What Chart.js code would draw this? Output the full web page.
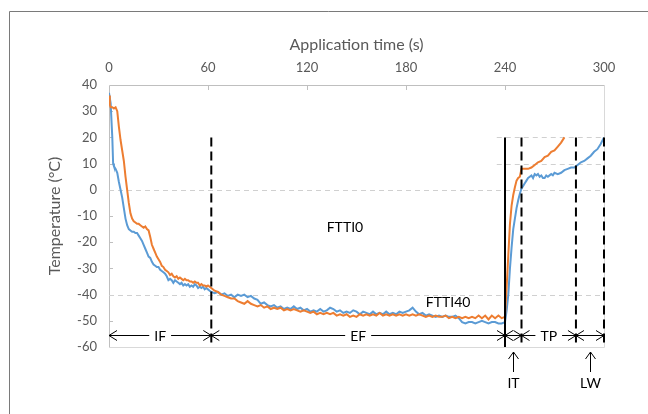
<!DOCTYPE html>
<html>
<head>
<meta charset="utf-8">
<script src="https://cdn.jsdelivr.net/npm/chart.js@4.4.1/dist/chart.umd.min.js"></script>
<style>
  html, body { margin: 0; padding: 0; background: #fff; }
  #wrap { width: 648px; height: 414px; position: relative; }
</style>
</head>
<body>
<div id="wrap"><canvas id="tempChart" width="648" height="414"></canvas></div>
<script>
// FTTI0 (blue) - time in s, temperature in °C
const blueTime = [
  0, 1, 2, 2.5, 3, 4, 5, 6, 7, 8, 9, 10, 11, 12, 13, 14, 15, 16, 17, 18, 19, 20,
  21, 22, 23, 24, 25, 26, 27, 28, 29, 30, 31, 32, 33, 34, 35, 36, 37, 38, 39, 40,
  41, 42, 43, 44, 45, 46, 47, 48, 49, 50, 51, 52, 53, 54, 55, 56, 57, 58, 59, 60, 61, 62,
  64, 66, 68, 70, 72, 74, 76, 78, 80, 82, 84, 86, 88, 90, 92, 94, 96, 98, 100,
  102, 104, 106, 108, 110, 112, 114, 116, 118, 120, 122, 124, 126, 128, 130,
  132, 134, 136, 138, 140, 142, 144, 146, 148, 150, 152, 154, 156, 158, 160,
  162, 164, 166, 168, 170, 172, 174, 176, 178, 180, 182, 184, 186, 188, 190,
  192, 194, 196, 198, 200, 202, 204, 206, 208, 210, 212, 214, 216, 218, 220,
  222, 224, 226, 228, 230, 232, 234, 236, 238, 240,
  241, 242, 243, 244, 245, 246, 247, 248, 249, 250, 251, 252, 253, 254, 255,
  256, 257, 258, 259, 260, 261, 262, 263, 264, 265, 266, 267, 268, 269, 270,
  272, 274, 276, 278, 280, 282, 284, 286, 288, 290, 292, 294, 296, 298, 300
];
const blueTemp = [
  37, 33, 20, 10, 9, 8, 6.5, 3, 0, -3, -7, -11, -13.5, -15, -15.5, -16, -16, -16.5, -16.5, -17.5, -18.5, -19.5,
  -21, -22.5, -24, -25.5, -26, -27.5, -28.5, -29, -29.5, -29.5, -30.5, -31, -31.5, -32, -33, -34.5, -34, -34.5, -35.5, -34.5,
  -35, -35.5, -36, -35.5, -36.5, -36, -36.5, -36, -37, -36.5, -37, -36, -36.5, -37.5, -37, -37.5, -37, -38, -37.5, -38, -38.5, -39,
  -39.5, -39, -40, -39.5, -40.5, -40, -41, -40, -40.5, -40, -41, -40.5, -41.5, -42, -43.5, -43, -44, -44.5, -44,
  -45, -44.5, -45.5, -45, -45.5, -44.5, -45.5, -45, -46, -45.5, -46.5, -46, -46.5, -45.5, -46.5,
  -46, -45, -45.5, -46.5, -46, -47, -46.5, -47, -46, -46.5, -47.5, -46.5, -47, -47.5, -46.5,
  -47.5, -47, -47.5, -46.5, -47.5, -47, -47.5, -46.5, -47, -46.5, -46, -45, -46.5, -47.5, -47,
  -48, -47.5, -48, -48.5, -48, -48.5, -48, -48.5, -48.5, -48, -49, -50.5, -51, -50.5, -50.5,
  -51, -50.5, -50, -50.5, -51, -50.5, -50.5, -51, -51, -50.5,
  -46, -40, -30, -22, -15, -11, -7, -4, -1.5, 0.5, 1.5, 2.5, 3.5, 4.5, 5,
  5.5, 4.5, 6, 5.5, 6, 5, 5.5, 4.5, 4.5, 5.5, 5, 5.5, 6, 5.5, 6.5,
  6, 6.5, 7.5, 8, 8.5, 8.5, 9.5, 10.5, 11, 12, 13, 14.5, 15.5, 17.5, 20
];

// FTTI40 (orange)
const orangeTime = [
  0, 0.5, 1, 2, 3, 4, 5, 6, 7, 8, 9, 10, 11, 12, 13, 14, 15, 16, 17, 18, 19, 20,
  21, 22, 23, 24, 25, 26, 27, 28, 29, 30, 31, 32, 33, 34, 35, 36, 37, 38, 39, 40,
  41, 42, 43, 44, 45, 46, 47, 48, 49, 50, 51, 52, 53, 54, 55, 56, 57, 58, 59, 60, 61, 62,
  64, 66, 68, 70, 72, 74, 76, 78, 80, 82, 84, 86, 88, 90, 92, 94, 96, 98, 100,
  102, 104, 106, 108, 110, 112, 114, 116, 118, 120, 122, 124, 126, 128, 130,
  132, 134, 136, 138, 140, 142, 144, 146, 148, 150, 152, 154, 156, 158, 160,
  162, 164, 166, 168, 170, 172, 174, 176, 178, 180, 182, 184, 186, 188, 190,
  192, 194, 196, 198, 200, 202, 204, 206, 208, 210, 212, 214, 216, 218, 220,
  222, 224, 226, 228, 230, 232, 234, 236, 238, 240,
  241, 242, 243, 244, 245, 246, 247, 248, 249, 250, 252, 254, 256, 258, 260,
  262, 264, 266, 268, 270, 272, 274, 276
];
const orangeTemp = [
  36, 32.5, 31.5, 31.5, 31, 31.5, 30, 24, 19, 15, 11, 5, 0, -5, -9, -11, -12, -12.5, -13, -13, -13.5, -14,
  -14.5, -14, -15, -15.5, -18, -21, -22.5, -24, -25.5, -26.5, -27.5, -29, -29.5, -30.5, -31, -31.5, -32.5, -32, -33, -33.5,
  -33, -34, -33.5, -34, -34.5, -34, -34.5, -34.5, -35, -35, -35.5, -35, -35.5, -35.5, -36.5, -36, -36.5, -36.5, -37, -36.5, -37, -37.5,
  -38.5, -39, -40, -40.5, -41, -41.5, -41.5, -42.5, -43, -43.5, -42.5, -43.5, -44, -44.5, -44, -45, -44.5, -45.5, -45,
  -45.5, -45, -46, -45.5, -46, -45.5, -46, -46.5, -46, -46.5, -47, -46.5, -47.5, -47, -47.5,
  -47, -47.5, -47, -48, -47.5, -48, -47.5, -48.5, -48, -48.5, -47.5, -48, -47.5, -48, -47.5,
  -48, -47, -48, -47.5, -48, -47.5, -48, -47.5, -48, -47.5, -48, -47.5, -48, -47.5, -48,
  -48.5, -48, -48.5, -48, -48.5, -48.5, -48, -49, -48.5, -49, -48.5, -49, -48.5, -49, -48.5,
  -49, -48, -49, -48, -49.5, -48, -49, -48, -49, -48.5,
  -37, -25, -13, -6, -2, 1, 3.5, 4.5, 5, 8, 8, 8, 8.5, 9.5, 10.5,
  11, 12.5, 13, 14.5, 15, 16.5, 18, 20
];

// annotation values (time in s, temperature in °C)
const phaseBounds = [0, 62, 240, 250, 283, 300];
const phaseLabels = ['IF', 'EF', '', 'TP', ''];
const phaseArrowTemp = -55.5;
const markerTimes = [62, 240, 250, 283, 300];
const markerSolid = [false, true, false, false, false];
const markerTop = 20;
const fullGridTemps = [0, -40];
const partialGridTemps = [20, 10];
const partialGridStart = 235;
const pointerLabels = ['IT', 'LW'];
const pointerTimes = [245, 291.5];
const curveLabels = ['FTTI0', 'FTTI40'];
const curveLabelTimes = [143, 205.5];
const curveLabelTemps = [-14.5, -43];

const FONT = 'Lato, "Open Sans", sans-serif';
const GREY = '#595959';

const toPoints = (xs, ys) => xs.map((x, i) => ({ x: x, y: ys[i] }));

function chevron(ctx, x, y, dir) {
  ctx.beginPath();
  ctx.moveTo(x - dir * 8, y - 5);
  ctx.lineTo(x, y);
  ctx.lineTo(x - dir * 8, y + 5);
  ctx.stroke();
}

const annotations = {
  id: 'annotations',
  beforeDraw(chart) {
    // outer figure frame
    const ctx = chart.ctx;
    ctx.save();
    ctx.strokeStyle = '#7a7a7a';
    ctx.lineWidth = 1;
    ctx.beginPath();
    ctx.moveTo(9.5, 414);
    ctx.lineTo(9.5, 11.5);
    ctx.lineTo(648, 11.5);
    ctx.stroke();
    ctx.restore();
  },
  beforeDatasetsDraw(chart) {
    const { ctx, chartArea: a, scales: { x, y } } = chart;
    ctx.save();
    // plot frame
    ctx.lineWidth = 1;
    ctx.strokeStyle = '#d9d9d9';
    ctx.beginPath();
    ctx.moveTo(a.left, Math.round(a.bottom) + 0.5);
    ctx.lineTo(Math.round(a.right) + 0.5, Math.round(a.bottom) + 0.5);
    ctx.lineTo(Math.round(a.right) + 0.5, a.top);
    ctx.stroke();
    ctx.strokeStyle = '#bfbfbf';
    ctx.beginPath();
    ctx.moveTo(Math.round(a.left) + 0.5, a.bottom);
    ctx.lineTo(Math.round(a.left) + 0.5, Math.round(a.top) + 0.5);
    ctx.lineTo(a.right, Math.round(a.top) + 0.5);
    ctx.stroke();
    // inward ticks
    [60, 120, 180, 240].forEach(t => {
      const px = Math.round(x.getPixelForValue(t)) + 0.5;
      ctx.beginPath();
      ctx.moveTo(px, a.top);
      ctx.lineTo(px, a.top + 5);
      ctx.stroke();
    });
    for (let v = 30; v >= -50; v -= 10) {
      const py = Math.round(y.getPixelForValue(v)) + 0.5;
      ctx.beginPath();
      ctx.moveTo(a.left, py);
      ctx.lineTo(a.left + 4, py);
      ctx.stroke();
    }
    // dashed grid lines
    ctx.strokeStyle = '#d0d0d0';
    ctx.setLineDash([5, 4]);
    fullGridTemps.forEach(v => {
      const py = Math.round(y.getPixelForValue(v)) + 0.5;
      ctx.beginPath();
      ctx.moveTo(a.left, py);
      ctx.lineTo(a.right, py);
      ctx.stroke();
    });
    partialGridTemps.forEach(v => {
      const py = Math.round(y.getPixelForValue(v)) + 0.5;
      ctx.beginPath();
      ctx.moveTo(x.getPixelForValue(partialGridStart), py);
      ctx.lineTo(a.right, py);
      ctx.stroke();
    });
    ctx.restore();
  },
  afterDatasetsDraw(chart) {
    const { ctx, chartArea: a, scales: { x, y } } = chart;
    ctx.save();
    // phase markers
    ctx.strokeStyle = '#000';
    ctx.lineWidth = 2;
    markerTimes.forEach((t, i) => {
      const px = x.getPixelForValue(t);
      ctx.setLineDash(markerSolid[i] ? [] : [9, 5]);
      ctx.beginPath();
      ctx.moveTo(px, y.getPixelForValue(markerTop));
      ctx.lineTo(px, y.getPixelForValue(-60));
      ctx.stroke();
    });
    ctx.setLineDash([]);
    // double-headed phase arrows
    ctx.lineWidth = 1;
    ctx.font = '14px ' + FONT;
    ctx.textAlign = 'center';
    ctx.textBaseline = 'middle';
    const ay = Math.round(y.getPixelForValue(phaseArrowTemp)) + 0.5;
    for (let i = 0; i < phaseLabels.length; i++) {
      const x0 = x.getPixelForValue(phaseBounds[i]);
      const x1 = x.getPixelForValue(phaseBounds[i + 1]);
      const mid = (x0 + x1) / 2;
      ctx.beginPath();
      ctx.moveTo(x0, ay);
      ctx.lineTo(x1, ay);
      ctx.stroke();
      chevron(ctx, x0, ay, -1);
      chevron(ctx, x1, ay, 1);
      if (phaseLabels[i]) {
        const w = ctx.measureText(phaseLabels[i]).width;
        ctx.fillStyle = '#fff';
        ctx.fillRect(mid - w / 2 - 5, ay - 8, w + 10, 16);
        ctx.fillStyle = '#000';
        ctx.fillText(phaseLabels[i], mid, ay + 1);
      }
    }
    // pointers below the axis
    pointerTimes.forEach((t, i) => {
      const px = Math.round(x.getPixelForValue(t)) + 0.5;
      ctx.beginPath();
      ctx.moveTo(px, a.bottom + 25);
      ctx.lineTo(px, a.bottom + 5);
      ctx.stroke();
      ctx.beginPath();
      ctx.moveTo(px - 5, a.bottom + 12);
      ctx.lineTo(px, a.bottom + 5);
      ctx.lineTo(px + 5, a.bottom + 12);
      ctx.stroke();
      ctx.fillStyle = '#000';
      ctx.fillText(pointerLabels[i], px, a.bottom + 36);
    });
    // series labels
    curveLabels.forEach((s, i) => {
      ctx.fillText(s, x.getPixelForValue(curveLabelTimes[i]), y.getPixelForValue(curveLabelTemps[i]));
    });
    ctx.restore();
  }
};

new Chart(document.getElementById('tempChart'), {
  type: 'line',
  data: {
    datasets: [
      {
        label: 'FTTI40',
        data: toPoints(orangeTime, orangeTemp),
        borderColor: '#ED7D31',
        borderWidth: 2,
        pointRadius: 0,
        tension: 0
      },
      {
        label: 'FTTI0',
        data: toPoints(blueTime, blueTemp),
        borderColor: '#5B9BD5',
        borderWidth: 2,
        pointRadius: 0,
        tension: 0
      }
    ]
  },
  options: {
    responsive: false,
    animation: false,
    devicePixelRatio: 1,
    layout: { padding: { top: 32, left: 41, right: 44, bottom: 67 } },
    plugins: {
      legend: { display: false },
      tooltip: { enabled: false }
    },
    scales: {
      x: {
        type: 'linear',
        position: 'top',
        min: 0,
        max: 300,
        afterFit: s => { s.height = 53; },
        ticks: { stepSize: 60, padding: 9, color: GREY, font: { family: FONT, size: 13 } },
        grid: { display: false, drawTicks: false },
        border: { display: false },
        title: {
          display: true,
          text: 'Application time (s)',
          color: GREY,
          padding: { top: 3, bottom: 0 },
          font: { family: FONT, size: 16 }
        }
      },
      y: {
        min: -60,
        max: 40,
        afterFit: s => { s.width = 68; },
        ticks: { stepSize: 10, padding: 12, color: GREY, font: { family: FONT, size: 13 } },
        grid: { display: false, drawTicks: false },
        border: { display: false },
        title: {
          display: true,
          text: 'Temperature (°C)',
          color: GREY,
          padding: { top: 4, bottom: 0 },
          font: { family: FONT, size: 16 }
        }
      }
    }
  },
  plugins: [annotations]
});
</script>
</body>
</html>
